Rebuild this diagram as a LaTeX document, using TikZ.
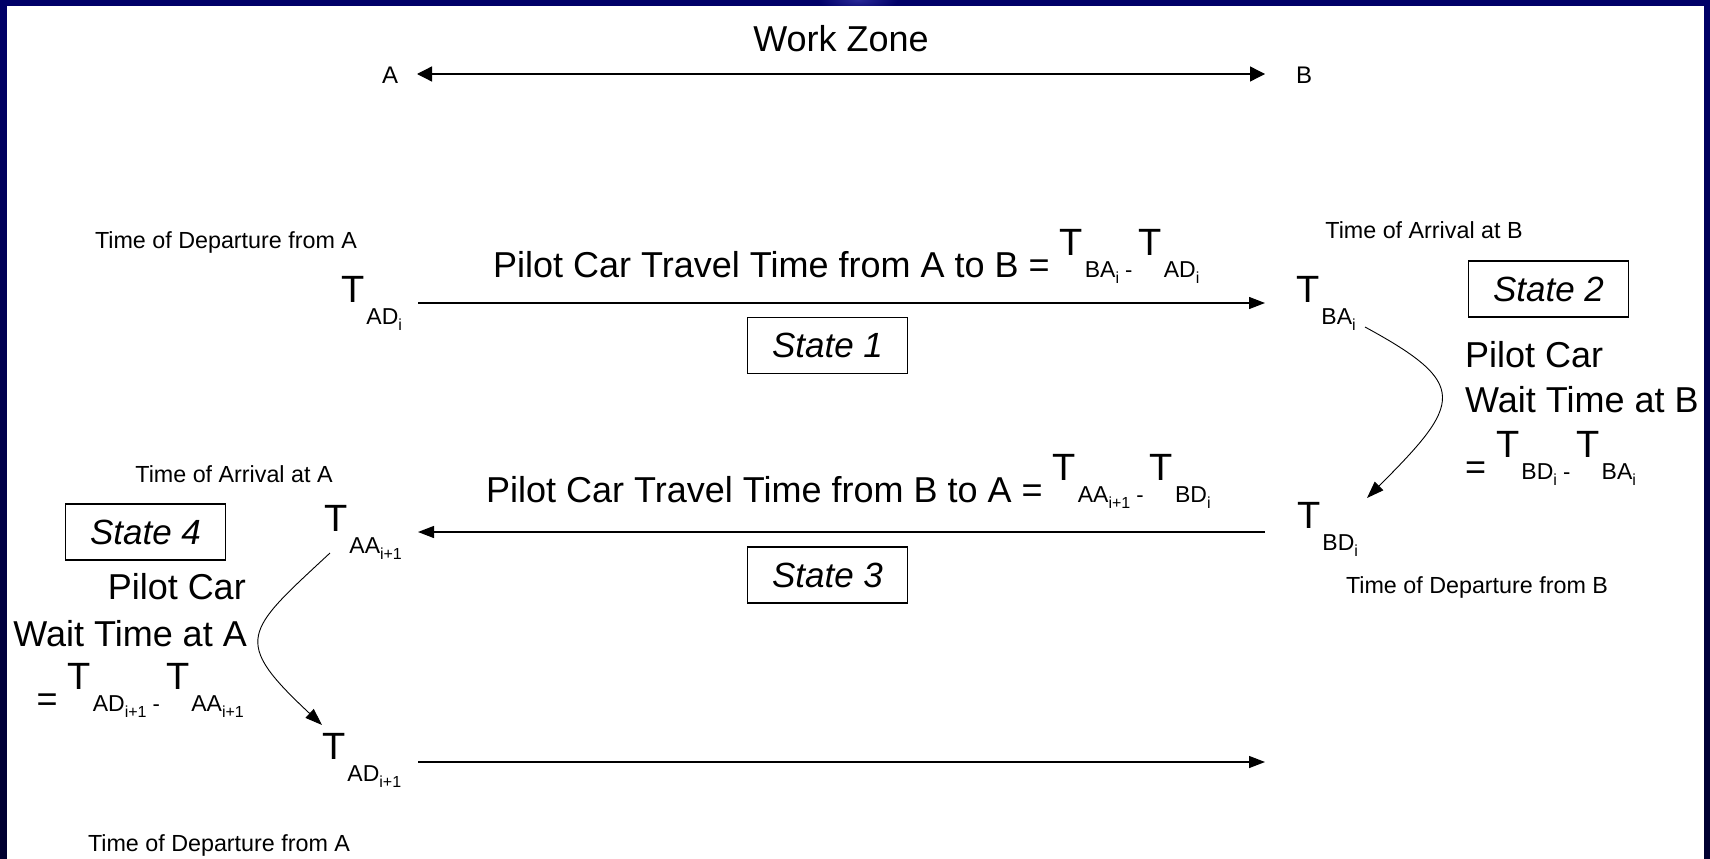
\documentclass[tikz,border=0pt]{standalone}
\usepackage{fontspec}
\setmainfont{Liberation Sans}
\usetikzlibrary{arrows.meta}

% time stamp T with lowered subscript and index
\newcommand\TT[2]{\raisebox{22pt}{\fontsize{38}{38}\selectfont T}\kern2pt{\fontsize{23}{23}\selectfont #1}\raisebox{-6pt}{\fontsize{16}{16}\selectfont #2}}
\newcommand\mn{{\fontsize{22}{22}\selectfont\ -\ }}

\definecolor{navytop}{RGB}{0,0,104}
\definecolor{navybot}{RGB}{0,0,48}
\definecolor{navyglow}{RGB}{40,40,150}

\tikzset{
  big/.style={inner sep=0pt, font=\fontsize{36}{42}\selectfont},
  small/.style={inner sep=0pt, font=\fontsize{23.3}{28}\selectfont},
  stamp/.style={inner sep=0pt, anchor=base west},
  statebox/.style={draw, line width=1.8pt, minimum width=160pt, minimum height=56pt,
    inner sep=0pt, font=\fontsize{35}{40}\selectfont\itshape},
  flow/.style={line width=1.3pt, -{Triangle[length=16pt,width=12pt]}},
  wait/.style={line width=0.9pt, -{Triangle[length=17pt,width=12pt]}},
}

\begin{document}
\begin{tikzpicture}[x=1pt,y=-1pt]
% frame
\shade[top color=navytop, bottom color=navybot] (0,0) rectangle (1710,859);
\begin{scope}
  \clip (0,0) rectangle (1710,6);
  \shade[inner color=navyglow, outer color=navytop] (858,0) ellipse (40 and 12);
\end{scope}
\fill[white] (7,6) rectangle (1704,859);
\useasboundingbox (0,0) rectangle (1710,859);

% work zone
\node[big, anchor=base] (wz) at (841,52) {Work Zone};
\node[inner sep=0pt, anchor=base, font=\fontsize{24}{28}\selectfont] (ptA) at (390,83) {A};
\node[inner sep=0pt, anchor=base, font=\fontsize{24}{28}\selectfont] (ptB) at (1304,83) {B};
\coordinate (wzl) at (417,74);
\coordinate (wzr) at (1265,74);
\draw[line width=1.3pt, {Triangle[length=15pt,width=15pt]}-{Triangle[length=15pt,width=15pt]}] (wzl) -- (wzr);

% state 1: travel A -> B
\node[small, anchor=base] (depA) at (226,248) {Time of Departure from A};
\node[stamp] (tad) at (341,324) {\TT{AD}{i}};
\node[big, anchor=base west] (tt1) at (493,277) {Pilot Car Travel Time from A to B = \TT{BA}{i}\mn\TT{AD}{i}};
\coordinate (s1a) at (418,303);
\coordinate (s1b) at (1265,303);
\draw[flow] (s1a) -- (s1b);
\node[statebox] (st1) at (827.5,345.5) {State 1};

% state 2: wait at B
\node[small, anchor=base] (arrB) at (1424,238) {Time of Arrival at B};
\node[stamp] (tba) at (1296,324) {\TT{BA}{i}};
\node[statebox] (st2) at (1548.5,289) {State 2};
\node[big, anchor=base west] (w2a) at (1465,367) {Pilot Car};
\node[big, anchor=base west] (w2b) at (1465,412) {Wait Time at B};
\node[big, anchor=base west] (w2c) at (1465,479) {= \TT{BD}{i}\mn\TT{BA}{i}};
\coordinate (cb0) at (1365,327);
\coordinate (cb1) at (1367,498);
\draw[wait] (cb0) .. controls (1470,384) and (1462,403) .. (cb1);

% state 3: travel B -> A
\node[stamp] (tbd) at (1297,550) {\TT{BD}{i}};
\node[small, anchor=base] (depB) at (1477,593) {Time of Departure from B};
\node[big, anchor=base west] (tt2) at (486,502) {Pilot Car Travel Time from B to A = \TT{AA}{i+1}\mn\TT{BD}{i}};
\coordinate (s3b) at (1265,532);
\coordinate (s3a) at (418,532);
\draw[flow] (s3b) -- (s3a);
\node[statebox] (st3) at (827.5,575) {State 3};

% state 4: wait at A
\node[small, anchor=base] (arrA) at (234,482) {Time of Arrival at A};
\node[stamp] (taa) at (324,553) {\TT{AA}{i+1}};
\node[statebox] (st4) at (145.5,532) {State 4};
\node[big, anchor=base east] (w4a) at (246,599) {Pilot Car};
\node[big, anchor=base east] (w4b) at (247,646) {Wait Time at A};
\node[big, anchor=base east] (w4c) at (244,711) {= \TT{AD}{i+1}\mn\TT{AA}{i+1}};
\coordinate (ca0) at (330,553);
\coordinate (ca1) at (322,725);
\draw[wait] (ca0) .. controls (245,632) and (231,640) .. (ca1);

% next departure from A
\node[stamp] (tad2) at (322,781) {\TT{AD}{i+1}};
\coordinate (s5a) at (418,762);
\coordinate (s5b) at (1265,762);
\draw[flow] (s5a) -- (s5b);
\node[small, anchor=base] (depA2) at (219,851) {Time of Departure from A};
\end{tikzpicture}
\end{document}
